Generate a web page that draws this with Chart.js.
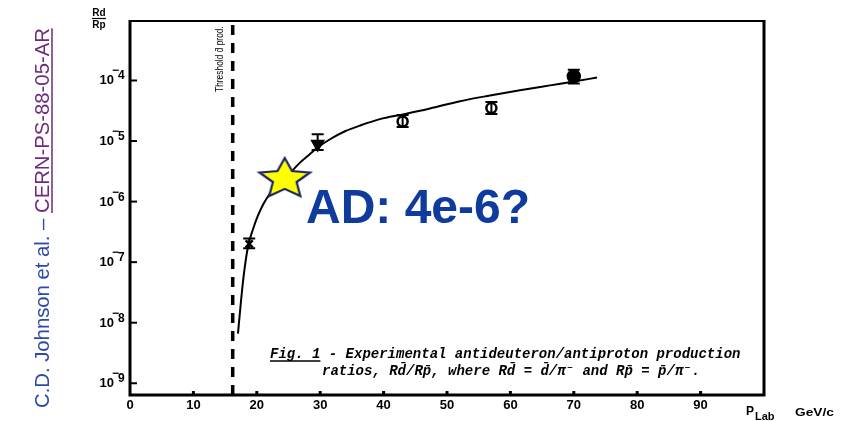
<!DOCTYPE html>
<html><head><meta charset="utf-8">
<script src="https://cdn.jsdelivr.net/npm/chart.js@4/dist/chart.umd.min.js"></script>
<style>html,body{margin:0;padding:0;background:#fff;}canvas{display:block}</style>
</head><body>
<canvas id="c" width="851" height="421"></canvas>
<script>
// ---- data ----
const curveMomentum = [17.03, 17.51, 17.98, 18.61, 19.40, 20.19, 20.98, 22.08, 23.34, 24.45, 25.55, 26.81, 28.39, 29.65, 31.55, 33.91, 36.28, 39.43, 43.06, 47.32, 52.05, 56.78, 61.51, 66.25, 70.03, 73.66];
const curveRatio    = [6.6e-9, 2.3e-8, 6.6e-8, 1.8e-7, 3.5e-7, 5.9e-7, 8.9e-7, 1.35e-6, 1.9e-6, 2.45e-6, 3.2e-6, 4.4e-6, 6.1e-6, 7.9e-6, 1.07e-5, 1.45e-5, 1.8e-5, 2.3e-5, 2.75e-5, 3.45e-5, 4.55e-5, 5.65e-5, 6.9e-5, 8.3e-5, 9.6e-5, 1.12e-4];
const measMomentum = [18.8, 29.6, 43.0, 57.0, 70.0];
const measRatio    = [2.0e-7, 8.9e-6, 2.1e-5, 3.5e-5, 1.17e-4];
const measLow      = [1.7e-7, 7.1e-6, 1.7e-5, 2.8e-5, 8.9e-5];
const measHigh     = [2.45e-7, 1.3e-5, 2.7e-5, 4.4e-5, 1.5e-4];
const starMomentum = [24.4];
const starRatio    = [2.45e-6];
const thresholdMomentum = 16.2;
const xTickValues = [0, 10, 20, 30, 40, 50, 60, 70, 80, 90];
const yTickExponents = [-9, -8, -7, -6, -5, -4];
const xRange = [0, 100];
const yRange = [6.4e-10, 9.6e-4];

const FONT = '"Liberation Sans", Arial, sans-serif';

function makeStar(){
  const c = document.createElement('canvas'); c.width = 62; c.height = 48;
  const g = c.getContext('2d');
  const cx = 31, cy = 25, rx = 26.5, ry = 21, ir = 0.47;
  g.beginPath();
  for (let i = 0; i < 10; i++) {
    const a = -Math.PI/2 + i*Math.PI/5;
    const f = (i % 2) ? ir : 1;
    const px = cx + Math.cos(a)*rx*f, py = cy + Math.sin(a)*ry*f;
    if (i === 0) g.moveTo(px, py); else g.lineTo(px, py);
  }
  g.closePath();
  g.fillStyle = '#ffff00'; g.fill();
  g.lineWidth = 2.2; g.strokeStyle = '#1a2463'; g.lineJoin = 'miter'; g.stroke();
  return c;
}

const decor = {
  id: 'decor',
  beforeDatasetsDraw(chart){
    const ctx = chart.ctx, a = chart.chartArea, xs = chart.scales.x, ys = chart.scales.y;
    ctx.save();
    // threshold dashed line
    const tx = xs.getPixelForValue(thresholdMomentum);
    ctx.strokeStyle = '#000'; ctx.lineWidth = 3.5; ctx.setLineDash([10, 8]);
    ctx.beginPath(); ctx.moveTo(tx, a.bottom); ctx.lineTo(tx, a.top); ctx.stroke();
    ctx.setLineDash([]);
    // error bars
    const meta = chart.getDatasetMeta(1);
    ctx.lineWidth = 2;
    meta.data.forEach((pt, i) => {
      const yl = ys.getPixelForValue(measLow[i]), yh = ys.getPixelForValue(measHigh[i]);
      ctx.beginPath();
      ctx.moveTo(pt.x, yl); ctx.lineTo(pt.x, yh);
      ctx.moveTo(pt.x-6, yl); ctx.lineTo(pt.x+6, yl);
      ctx.moveTo(pt.x-6, yh); ctx.lineTo(pt.x+6, yh);
      ctx.stroke();
    });
    ctx.restore();
  },
  afterDraw(chart){
    const ctx = chart.ctx, a = chart.chartArea, xs = chart.scales.x, ys = chart.scales.y;
    ctx.save();
    // frame
    ctx.strokeStyle = '#000';
    ctx.lineWidth = 2; ctx.beginPath(); ctx.moveTo(a.left, a.top); ctx.lineTo(a.right, a.top); ctx.stroke();
    ctx.lineWidth = 3;
    ctx.beginPath(); ctx.moveTo(a.left, a.top-1); ctx.lineTo(a.left, a.bottom); ctx.lineTo(a.right, a.bottom); ctx.lineTo(a.right, a.top-1); ctx.stroke();
    // y ticks + labels
    ctx.lineWidth = 2;
    ctx.fillStyle = '#000';
    yTickExponents.forEach(e => {
      const y = ys.getPixelForValue(Math.pow(10, e));
      ctx.beginPath(); ctx.moveTo(a.left, y); ctx.lineTo(a.left+7, y); ctx.stroke();
      ctx.font = 'bold 13px ' + FONT; ctx.textAlign = 'right'; ctx.textBaseline = 'alphabetic';
      ctx.fillText('10', a.left-16, y+4);
      ctx.textAlign = 'left';
      ctx.font = 'bold 12px ' + FONT;
      ctx.fillText('\u2212', a.left-18, y-6);
      ctx.fillText(String(Math.abs(e)), a.left-12, y-1);
    });
    // x ticks
    ctx.lineWidth = 3;
    xTickValues.forEach(v => {
      if (v === 0) return;
      const x = xs.getPixelForValue(v);
      ctx.beginPath(); ctx.moveTo(x, a.bottom); ctx.lineTo(x, a.bottom-4); ctx.stroke();
    });
    // y axis title (fraction)
    ctx.font = 'bold 10px ' + FONT; ctx.textAlign = 'center';
    ctx.fillText('Rd', 99, 16);
    ctx.fillText('Rp', 99, 28);
    ctx.lineWidth = 1.2; ctx.beginPath(); ctx.moveTo(92, 18.5); ctx.lineTo(106, 18.5); ctx.stroke();
    // x axis title
    ctx.textAlign = 'left';
    ctx.font = 'bold 12px ' + FONT; ctx.fillText('P', 746, 415);
    ctx.font = 'bold 11px ' + FONT; ctx.fillText('Lab', 755, 420);
    ctx.save(); ctx.translate(795, 416); ctx.scale(1.25, 1);
    ctx.font = 'bold 11px ' + FONT; ctx.fillText('GeV/c', 0, 0);
    ctx.restore();
    // threshold label
    const tx = xs.getPixelForValue(thresholdMomentum);
    ctx.save();
    ctx.translate(tx-10, 92); ctx.rotate(-Math.PI/2); ctx.scale(0.8, 1);
    ctx.font = '10.5px "Liberation Sans Narrow", ' + FONT; ctx.textAlign = 'left';
    ctx.fillText('Threshold d\u0304 prod.', 0, 0);
    ctx.restore();
    // caption
    ctx.font = 'italic bold 14px "Liberation Mono", "DejaVu Sans Mono", monospace';
    ctx.textAlign = 'left';
    const l1 = 'Fig. 1 - Experimental antideuteron/antiproton production';
    ctx.fillText(l1, 270, 358);
    const fw = ctx.measureText('Fig. 1').width;
    ctx.lineWidth = 1.3; ctx.beginPath(); ctx.moveTo(270, 361); ctx.lineTo(270+fw, 361); ctx.stroke();
    ctx.fillText('ratios, Rd\u0304/Rp\u0304, where Rd\u0304 = d\u0304/\u03c0\u207b and Rp\u0304 = p\u0304/\u03c0\u207b.', 322, 375);
    // annotation
    ctx.font = 'bold 48px ' + FONT; ctx.fillStyle = '#0f3a9e';
    ctx.fillText('AD: 4e-6?', 306, 223);
    // rotated citation
    ctx.save();
    ctx.translate(49, 408); ctx.rotate(-Math.PI/2);
    ctx.font = '20.3px ' + FONT;
    const t1 = 'C.D. Johnson et al. \u2013 ';
    ctx.fillStyle = '#2d4aa8'; ctx.fillText(t1, 0, 0);
    const w1 = ctx.measureText(t1).width;
    const t2 = 'CERN-PS-88-05-AR';
    ctx.fillStyle = '#6e2a7c'; ctx.fillText(t2, w1, 0);
    const w2 = ctx.measureText(t2).width;
    ctx.strokeStyle = '#6e2a7c'; ctx.lineWidth = 1.5;
    ctx.beginPath(); ctx.moveTo(w1, 3); ctx.lineTo(w1+w2, 3); ctx.stroke();
    ctx.restore();
    ctx.restore();
  }
};

new Chart(document.getElementById('c'), {
  type: 'scatter',
  data: {
    datasets: [
      {
        label: 'curve',
        data: curveMomentum.map((x, i) => ({x, y: curveRatio[i]})),
        showLine: true, borderColor: '#000', borderWidth: 2, pointRadius: 0,
        cubicInterpolationMode: 'monotone', fill: false, order: 2
      },
      {
        label: 'measurements',
        data: measMomentum.map((x, i) => ({x, y: measRatio[i]})),
        pointStyle: ['crossRot', 'triangle', 'circle', 'circle', 'circle'],
        rotation: [0, 180, 0, 0, 0],
        pointRadius: [5, 6, 5, 5, 6],
        backgroundColor: ['#000', '#000', 'rgba(0,0,0,0)', 'rgba(0,0,0,0)', '#000'],
        borderColor: '#000', borderWidth: 2.5, order: 1
      },
      {
        label: 'AD',
        data: starMomentum.map((x, i) => ({x, y: starRatio[i]})),
        pointStyle: makeStar(), pointRadius: 20, order: 0
      }
    ]
  },
  options: {
    responsive: false, animation: false, devicePixelRatio: 1,
    layout: { padding: { top: 18, right: 87, left: 0, bottom: 0 } },
    plugins: { legend: { display: false }, tooltip: { enabled: false } },
    scales: {
      x: {
        type: 'linear', min: xRange[0], max: xRange[1],
        afterBuildTicks: s => { s.ticks = xTickValues.map(v => ({value: v})); },
        ticks: { display: true, color: '#000', padding: 3, autoSkip: false, maxRotation: 0,
                 font: { family: FONT, weight: 'bold', size: 13 } },
        grid: { display: false, drawTicks: false },
        border: { display: false },
        afterFit: s => { s.height = 26; }
      },
      y: {
        type: 'logarithmic', min: yRange[0], max: yRange[1],
        afterBuildTicks: s => { s.ticks = yTickExponents.map(e => ({value: Math.pow(10, e)})); },
        ticks: { display: false },
        grid: { display: false, drawTicks: false },
        border: { display: false },
        afterFit: s => { s.width = 130; }
      }
    }
  },
  plugins: [decor]
});
</script>
</body></html>
